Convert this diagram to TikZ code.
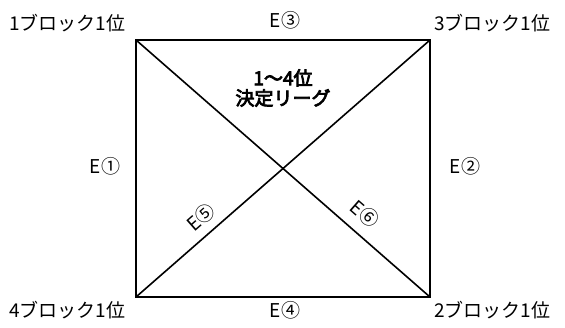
\documentclass[tikz,border=0pt]{standalone}
\usepackage{fontspec}
\setmainfont{Noto Sans CJK JP}
\newfontfamily\jpb{Noto Sans CJK JP}[FakeBold=4]
\begin{document}
\begin{tikzpicture}[x=1pt,y=-1pt,
  lbl/.style={inner sep=0pt,font=\fontsize{19}{20}\selectfont},
  elbl/.style={inner sep=0pt,font=\fontsize{19}{20}\selectfont},
  ttl/.style={inner sep=0pt,font=\fontsize{19}{20}\selectfont,align=center},
  edge/.style={line width=1.6pt}]
\useasboundingbox (0,0) rectangle (565,327);
\coordinate (tl) at (136,40);
\coordinate (tr) at (430,40);
\coordinate (bl) at (136,297);
\coordinate (br) at (430,297);
\draw[edge] (tl) -- (tr) -- (br) -- (bl) -- cycle;
\draw[edge] (tl) -- (br);
\draw[edge] (bl) -- (tr);
\node[lbl,anchor=west] (b1) at (9,23) {1ブロック1位};
\node[lbl,anchor=west] (b3) at (434,23) {3ブロック1位};
\node[lbl,anchor=west] (b4) at (9,310) {4ブロック1位};
\node[lbl,anchor=west] (b2) at (434,310) {2ブロック1位};
\node[elbl] (e3) at (285,20) {E③};
\node[elbl] (e4) at (285,310) {E④};
\node[elbl] (e1) at (105,166) {E①};
\node[elbl] (e2) at (465,166) {E②};
\node[elbl,rotate=41.2] (e5) at (201,217) {E⑤};
\node[elbl,rotate=-41.2] (e6) at (365,214) {E⑥};
\node[ttl] (t) at (283,88) {{\jpb 1〜4位}\\{\jpb 決定リーグ}};
\end{tikzpicture}
\end{document}
